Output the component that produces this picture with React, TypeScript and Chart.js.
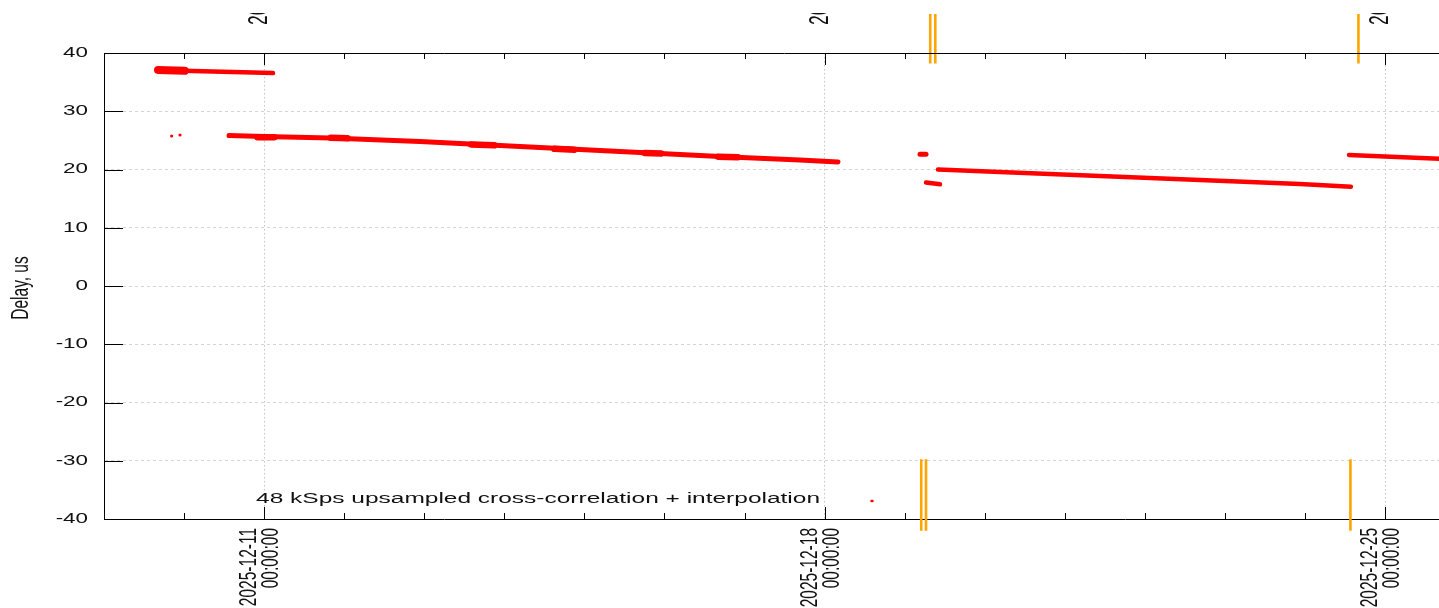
import React, { useEffect, useRef } from 'react';
import { Chart, registerables } from 'chart.js';

Chart.register(...registerables);

// ---------------- data ----------------
const X_MIN = '2025-12-09 00:00';
const X_MAX = '2025-12-26 00:00';
const MAJOR_TICKS = ['2025-12-11 00:00', '2025-12-18 00:00', '2025-12-25 00:00'];
const MINOR_TICKS = [
  '2025-12-10 00:00', '2025-12-12 00:00', '2025-12-13 00:00', '2025-12-14 00:00',
  '2025-12-15 00:00', '2025-12-16 00:00', '2025-12-17 00:00', '2025-12-19 00:00',
  '2025-12-20 00:00', '2025-12-21 00:00', '2025-12-22 00:00', '2025-12-23 00:00',
  '2025-12-24 00:00', '2025-12-26 00:00',
];
const Y_MIN = -40;
const Y_MAX = 40;
const Y_STEP = 10;

const Y_TITLE = 'Delay, us';
const SERIES_LABEL = '48 kSps upsampled cross-correlation + interpolation';

// top band, thick head
const A_HEAD_T = ['2025-12-09 16:11', '2025-12-10 00:10'];
const A_HEAD_V = [37.1, 36.95];
// top band
const A_T = ['2025-12-09 16:11', '2025-12-09 23:41', '2025-12-10 14:40', '2025-12-11 02:39'];
const A_V = [37.1, 36.95, 36.75, 36.55];
// two small isolated points
const DOTS_T = ['2025-12-09 20:17', '2025-12-09 22:47'];
const DOTS_V = [25.75, 25.92];
// long band 1
const B_T = [
  '2025-12-10 13:28', '2025-12-11 00:00', '2025-12-11 19:45', '2025-12-12 22:43',
  '2025-12-13 19:42', '2025-12-14 19:40', '2025-12-15 19:39', '2025-12-16 19:38',
  '2025-12-17 16:36', '2025-12-18 04:00',
];
const B_V = [25.84, 25.67, 25.4, 24.8, 24.2, 23.5, 22.85, 22.15, 21.65, 21.3];
// noisy, thicker stretches of band 1 (start/end time pairs and values)
const B_NOISE_T = [
  ['2025-12-10 22:00', '2025-12-11 03:00'],
  ['2025-12-11 20:00', '2025-12-12 01:00'],
  ['2025-12-13 14:00', '2025-12-13 21:00'],
  ['2025-12-14 15:00', '2025-12-14 21:00'],
  ['2025-12-15 18:00', '2025-12-15 23:00'],
  ['2025-12-16 16:00', '2025-12-16 22:00'],
];
const B_NOISE_V = [
  [25.55, 25.55],
  [25.45, 25.35],
  [24.3, 24.15],
  [23.55, 23.4],
  [22.85, 22.75],
  [22.2, 22.1],
];
// small blob
const C_T = ['2025-12-19 04:35', '2025-12-19 06:23'];
const C_V = [22.6, 22.6];
// short low piece
const D_T = ['2025-12-19 06:23', '2025-12-19 10:35'];
const D_V = [17.75, 17.45];
// long band 2
const E_T = [
  '2025-12-19 09:59', '2025-12-20 04:34', '2025-12-21 10:32', '2025-12-22 16:30',
  '2025-12-23 22:29', '2025-12-24 13:46',
];
const E_V = [20.0, 19.57, 18.88, 18.2, 17.5, 17.05];
// last band
const F_T = ['2025-12-24 13:10', '2025-12-25 16:09', '2025-12-25 23:21'];
const F_V = [22.5, 21.85, 21.75];

// orange event markers
const ORANGE_TOP_T = ['2025-12-19 07:39', '2025-12-19 09:10', '2025-12-24 16:00'];
const ORANGE_TOP_V = [46.7, 38.2];
const ORANGE_BOTTOM_T = ['2025-12-19 04:57', '2025-12-19 06:23', '2025-12-24 13:36'];
const ORANGE_BOTTOM_V = [-29.75, -42.0];

// ---------------- helpers ----------------
const ms = (s: string) => Date.parse(s.replace(' ', 'T') + ':00Z');
const pad2 = (n: number) => String(n).padStart(2, '0');
const fmtDay = (v: number) => {
  const d = new Date(v);
  return `${d.getUTCFullYear()}-${pad2(d.getUTCMonth() + 1)}-${pad2(d.getUTCDate())}`;
};
const fmtTime = (v: number) => {
  const d = new Date(v);
  return `${pad2(d.getUTCHours())}:${pad2(d.getUTCMinutes())}:${pad2(d.getUTCSeconds())}`;
};

const K = 1.6; // horizontal stretch of the text in the picture
const FONT = "'Liberation Sans', Arial, sans-serif";
const RED = '#ff0000';
const ORANGE = '#ffa500';
const TEXT = '#111111';

const CANVAS_W = 1490;
const CANVAS_H = 608;

function seg(t: string[], v: number[], w: number) {
  return {
    data: t.map((s, i) => ({ x: ms(s), y: v[i] })),
    showLine: true,
    borderColor: RED,
    backgroundColor: RED,
    borderWidth: w,
    pointRadius: 0,
    borderCapStyle: 'round',
    borderJoinStyle: 'round',
    tension: 0,
  };
}

function orange(times: string[], vals: number[]) {
  return times.map((t) => ({
    data: vals.map((v) => ({ x: ms(t), y: v })),
    showLine: true,
    borderColor: ORANGE,
    backgroundColor: ORANGE,
    borderWidth: 2.6,
    pointRadius: 0,
    clip: false,
  }));
}

function sText(
  ctx: CanvasRenderingContext2D,
  text: string,
  x: number,
  y: number,
  size: number,
  align: CanvasTextAlign,
  rotate: boolean,
) {
  ctx.save();
  ctx.translate(x, y);
  ctx.scale(K, 1);
  if (rotate) ctx.rotate(-Math.PI / 2);
  ctx.font = `${size}px ${FONT}`;
  ctx.fillStyle = TEXT;
  ctx.textAlign = align;
  ctx.textBaseline = 'middle';
  ctx.fillText(text, 0, 0);
  ctx.restore();
}

const decor = {
  id: 'gnuplotDecor',
  afterDatasetsDraw(chart: any) {
    const ctx: CanvasRenderingContext2D = chart.ctx;
    const { left, right, top, bottom } = chart.chartArea;
    const xs = chart.scales.x;
    const ys = chart.scales.y;
    const line = (x1: number, y1: number, x2: number, y2: number) => {
      ctx.beginPath();
      ctx.moveTo(x1, y1);
      ctx.lineTo(x2, y2);
      ctx.stroke();
    };
    ctx.save();
    ctx.strokeStyle = '#000';
    ctx.lineWidth = 1;
    // top border
    line(left, Math.round(top) + 0.5, right, Math.round(top) + 0.5);
    // y ticks (inward)
    ys.ticks.forEach((t: any) => {
      const py = Math.round(ys.getPixelForValue(t.value)) + 0.5;
      line(left, py, left + 19, py);
    });
    // x major / minor ticks (inward, bottom and top)
    MAJOR_TICKS.forEach((s) => {
      const px = Math.round(xs.getPixelForValue(ms(s))) + 0.5;
      line(px, bottom, px, bottom - 12);
      line(px, top, px, top + 12);
    });
    MINOR_TICKS.forEach((s) => {
      const px = Math.round(xs.getPixelForValue(ms(s))) + 0.5;
      line(px, bottom, px, bottom - 6);
      line(px, top, px, top + 6);
    });
    ctx.restore();

    // y tick labels
    ys.ticks.forEach((t: any) => {
      const py = ys.getPixelForValue(t.value);
      sText(ctx, String(t.value), left - 16, py, 14, 'right', false);
    });
    // bottom x labels (two lines, rotated)
    MAJOR_TICKS.forEach((s) => {
      const v = ms(s);
      const px = xs.getPixelForValue(v);
      sText(ctx, fmtDay(v), px - 14.5, bottom + 9, 15.5, 'right', true);
      sText(ctx, fmtTime(v), px + 7.5, bottom + 9, 15.5, 'right', true);
    });
    // top x labels (mostly cut off at the picture's top edge)
    ctx.save();
    ctx.beginPath();
    ctx.rect(0, 13, chart.width, chart.height);
    ctx.clip();
    MAJOR_TICKS.forEach((s) => {
      const v = ms(s);
      const px = xs.getPixelForValue(v);
      sText(ctx, fmtDay(v), px - 4.5, top - 28, 17.5, 'left', true);
    });
    ctx.restore();
    // y title
    sText(ctx, Y_TITLE, 21, (top + bottom) / 2 + 2, 15.5, 'center', true);
    // key
    sText(ctx, SERIES_LABEL, 820, 499, 15.3, 'right', false);
    ctx.save();
    ctx.fillStyle = RED;
    ctx.beginPath();
    ctx.ellipse(872, 501, 1.8, 1.2, 0, 0, Math.PI * 2);
    ctx.fill();
    ctx.restore();
  },
};

export default function App() {
  const ref = useRef<HTMLCanvasElement | null>(null);

  useEffect(() => {
    document.body.style.margin = '0';
    const canvas = ref.current;
    if (!canvas) return;
    const datasets: any[] = [
      seg(A_HEAD_T, A_HEAD_V, 8),
      seg(A_T, A_V, 4.5),
      {
        data: DOTS_T.map((s, i) => ({ x: ms(s), y: DOTS_V[i] })),
        showLine: false,
        pointRadius: 1.6,
        pointBorderWidth: 0,
        backgroundColor: RED,
        borderColor: RED,
      },
      seg(B_T, B_V, 5),
      ...B_NOISE_T.map((t, i) => seg(t, B_NOISE_V[i], 6.5)),
      seg(C_T, C_V, 5),
      seg(D_T, D_V, 4.5),
      seg(E_T, E_V, 4.5),
      seg(F_T, F_V, 4.5),
      ...orange(ORANGE_TOP_T, ORANGE_TOP_V),
      ...orange(ORANGE_BOTTOM_T, ORANGE_BOTTOM_V),
    ];
    const xMax = ms(X_MAX);
    const xMin = ms(X_MIN);
    const chart = new Chart(canvas, {
      type: 'scatter',
      data: { datasets },
      plugins: [decor],
      options: {
        responsive: false,
        animation: false,
        events: [],
        layout: { padding: { top: 53, left: 0, bottom: 0, right: CANVAS_W - 1465.2 } },
        plugins: { legend: { display: false }, tooltip: { enabled: false } },
        scales: {
          x: {
            type: 'linear',
            min: xMin,
            max: xMax,
            afterBuildTicks: (s: any) => {
              s.ticks = MAJOR_TICKS.map((t) => ({ value: ms(t) }));
            },
            afterFit: (s: any) => {
              s.height = 89;
            },
            ticks: { display: false },
            grid: { color: '#c4c4c4', lineWidth: 1, drawTicks: false },
            border: { display: true, color: '#000', width: 1, dash: [1.5, 2.5] },
          },
          y: {
            type: 'linear',
            min: Y_MIN,
            max: Y_MAX,
            ticks: { stepSize: Y_STEP, display: false },
            afterFit: (s: any) => {
              s.width = 104;
            },
            grid: {
              color: (c: any) =>
                c.tick && (c.tick.value === Y_MIN || c.tick.value === Y_MAX) ? 'rgba(0,0,0,0)' : '#d4d4d4',
              lineWidth: 1,
              drawTicks: false,
            },
            border: { display: true, color: '#000', width: 1, dash: [3, 3] },
          },
        },
      } as any,
    });
    return () => chart.destroy();
  }, []);

  return (
    <div style={{ width: 1439, height: 608, overflow: 'hidden', position: 'relative' }}>
      <canvas
        ref={ref}
        width={CANVAS_W}
        height={CANVAS_H}
        style={{ display: 'block', width: CANVAS_W, height: CANVAS_H }}
      />
    </div>
  );
}
